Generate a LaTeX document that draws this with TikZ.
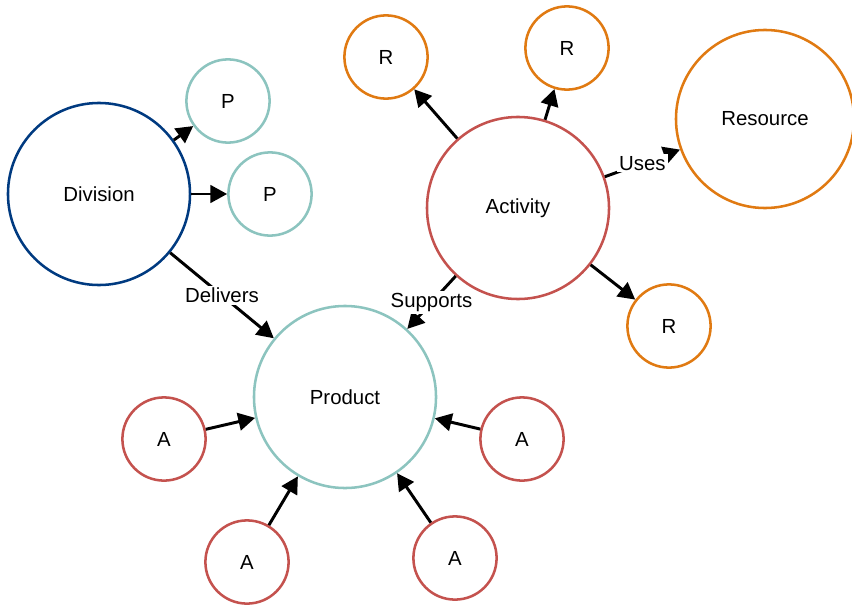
\documentclass[tikz,border=0pt]{standalone}
\usepackage{fontspec}
\setmainfont{Liberation Sans}
\usepackage{xcolor}
\usetikzlibrary{arrows.meta}

\definecolor{divblue}{HTML}{003A80}
\definecolor{prodteal}{HTML}{8CC4BF}
\definecolor{actred}{HTML}{C4524E}
\definecolor{resorange}{HTML}{E07A12}

\begin{document}
\begin{tikzpicture}[
  x=0.025cm, y=-0.025cm,
  font=\fontsize{14.5}{17}\selectfont,
  big/.style={circle, line width=1.8pt, minimum size=4.55cm, inner sep=0pt},
  sml/.style={circle, line width=1.8pt, minimum size=2.08cm, inner sep=0pt},
  arr/.style={-{Triangle[length=4.2mm, width=4.4mm]}, line width=2.1pt},
  lbl/.style={fill=white, inner sep=1.5pt}
]
\useasboundingbox (0,0) rectangle (852,604);
% main entities
\node[big, draw=divblue]   (div)  at (99,194)  {Division};
\node[big, draw=prodteal]  (prod) at (345,397) {Product};
\node[big, draw=actred]    (act)  at (518,208) {Activity};
\node[big, draw=resorange, minimum size=4.45cm] (res) at (765,119) {Resource};
% small satellites
\node[sml, draw=prodteal]  (p1) at (228,101) {P};
\node[sml, draw=prodteal]  (p2) at (270,194) {P};
\node[sml, draw=resorange] (r1) at (386,57)  {R};
\node[sml, draw=resorange] (r2) at (567,48)  {R};
\node[sml, draw=resorange] (r3) at (669,326) {R};
\node[sml, draw=actred]    (a1) at (164,439) {A};
\node[sml, draw=actred]    (a2) at (247,562) {A};
\node[sml, draw=actred]    (a3) at (455,558) {A};
\node[sml, draw=actred]    (a4) at (522,439) {A};
% links
\draw[arr] (div) -- (p1);
\draw[arr] (div) -- (p2);
\draw[arr] (div) -- node[lbl] {Delivers} (prod);
\draw[arr] (act) -- node[lbl] {Supports} (prod);
\draw[arr] (act) -- node[lbl] {Uses} (res);
\draw[arr] (act) -- (r1);
\draw[arr] (act) -- (r2);
\draw[arr] (act) -- (r3);
\draw[arr] (a1) -- (prod);
\draw[arr] (a2) -- (prod);
\draw[arr] (a3) -- (prod);
\draw[arr] (a4) -- (prod);
\end{tikzpicture}
\end{document}
